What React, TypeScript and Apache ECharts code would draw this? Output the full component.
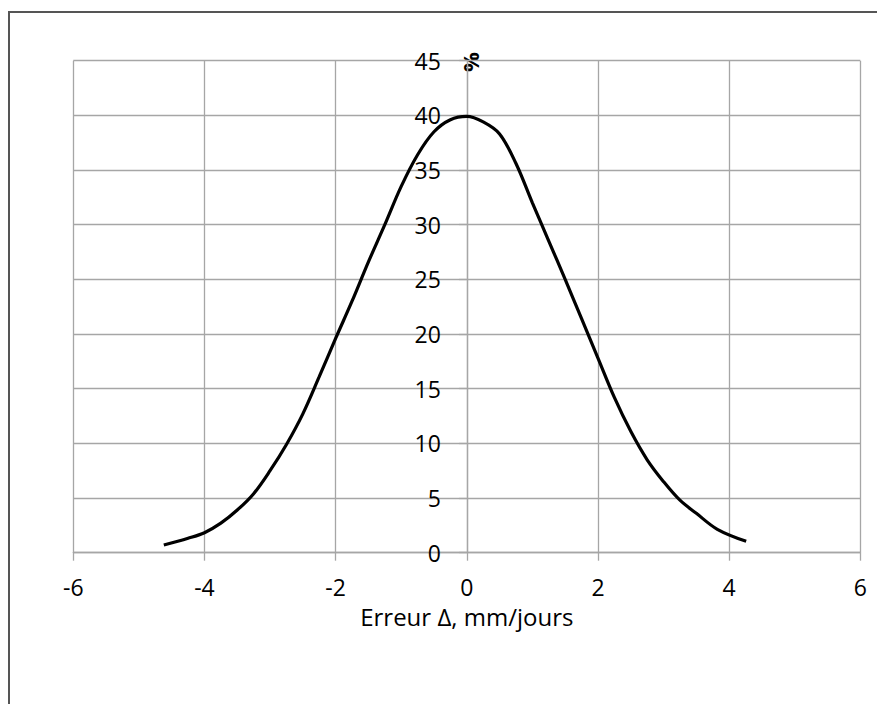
import React, { useEffect, useRef } from "react";
import * as echarts from "echarts";

const xValues = [-4.62, -4.25, -4.0, -3.75, -3.5, -3.25, -3.0, -2.75, -2.5, -2.25, -2.0, -1.75, -1.5, -1.25, -1.0, -0.75, -0.5, -0.25, 0.0, 0.25, 0.5, 0.75, 1.0, 1.25, 1.5, 1.75, 2.0, 2.25, 2.5, 2.75, 3.0, 3.25, 3.5, 3.82, 4.26];
const yValues = [0.7, 1.32, 1.83, 2.7, 3.9, 5.4, 7.5, 9.9, 12.7, 16.1, 19.6, 23.0, 26.6, 30.0, 33.5, 36.4, 38.5, 39.6, 39.9, 39.4, 38.3, 35.6, 32.0, 28.5, 25.0, 21.4, 17.8, 14.2, 11.1, 8.5, 6.5, 4.8, 3.6, 2.14, 1.04];
const xAxisTitle = "Erreur Δ, mm/jours";
const yAxisTitle = "%";

const FONT = "'Open Sans', sans-serif";
const X_MIN = -6;
const X_MAX = 6;

export default function App() {
  const ref = useRef<HTMLDivElement>(null);
  useEffect(() => {
    if (!ref.current) return;
    const chart = echarts.init(ref.current, null, { renderer: "svg" });
    const gridColor = "#a6a6a6";
    const gridWidth = 787;
    // place the y axis at x = 0 of the value axis
    const yAxisShift = (gridWidth * (0 - X_MIN)) / (X_MAX - X_MIN);
    chart.setOption({
      animation: false,
      backgroundColor: "#fff",
      grid: { left: 63.3, top: 47.7, width: gridWidth, height: 492, containLabel: false },
      xAxis: {
        type: "value",
        min: X_MIN,
        max: X_MAX,
        interval: 2,
        name: xAxisTitle,
        nameLocation: "middle",
        nameGap: 52,
        nameTextStyle: { fontFamily: FONT, fontSize: 24, color: "#000" },
        axisLine: { show: true, onZero: false, lineStyle: { color: gridColor, width: 1.3 } },
        axisTick: { show: true, length: 8, lineStyle: { color: gridColor, width: 1.3 } },
        axisLabel: { margin: 23, fontFamily: FONT, fontSize: 23, color: "#000" },
        splitLine: { show: true, lineStyle: { color: gridColor, width: 1.3 } },
      },
      yAxis: {
        type: "value",
        min: 0,
        max: 45,
        interval: 5,
        position: "left",
        offset: -yAxisShift,
        axisLine: { show: true, onZero: false, lineStyle: { color: gridColor, width: 1.3 } },
        axisTick: { show: true, length: 8, lineStyle: { color: gridColor, width: 1.3 } },
        axisLabel: { margin: 26, fontFamily: FONT, fontSize: 23, color: "#000" },
        splitLine: { show: true, lineStyle: { color: gridColor, width: 1.3 } },
      },
      graphic: [
        {
          type: "text",
          x: 460,
          y: 49,
          rotation: Math.PI / 2,
          style: {
            text: yAxisTitle,
            fontFamily: FONT,
            fontSize: 22,
            fontWeight: "bold",
            fill: "#000",
            align: "center",
            verticalAlign: "middle",
          },
        },
      ],
      series: [
        {
          type: "line",
          data: xValues.map((x, i) => [x, yValues[i]]),
          smooth: 0.35,
          showSymbol: false,
          symbol: "none",
          z: 5,
          lineStyle: { color: "#000", width: 3.2 },
        },
      ],
    });
    return () => chart.dispose();
  }, []);
  return (
    <div
      style={{
        marginTop: 3,
        width: 877,
        height: 693,
        boxSizing: "border-box",
        borderTop: "2px solid #555",
        borderLeft: "2px solid #555",
        position: "relative",
        overflow: "hidden",
      }}
    >
      <div ref={ref} style={{ width: 875, height: 691 }} />
    </div>
  );
}
